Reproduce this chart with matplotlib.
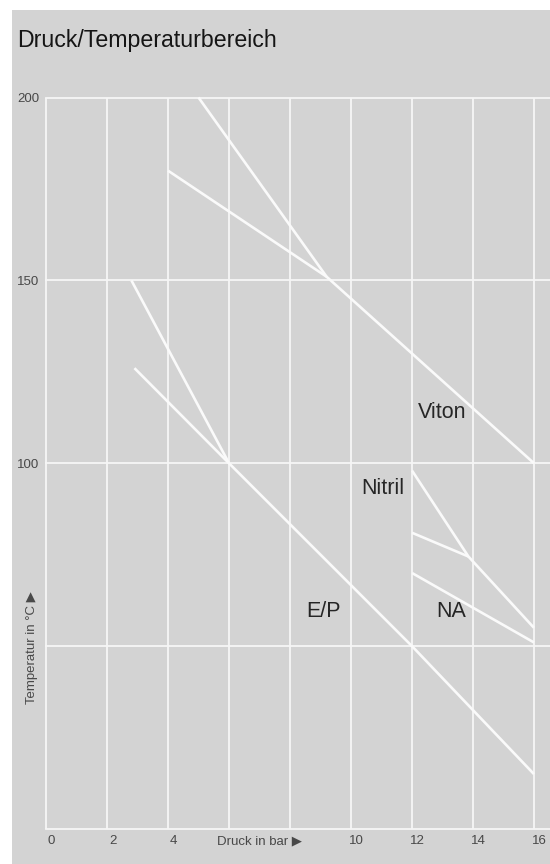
import matplotlib
matplotlib.use("Agg")
import matplotlib.pyplot as plt
import matplotlib.transforms as mtransforms
from matplotlib.patches import Rectangle

plt.rcParams['font.family'] = ['Liberation Sans', 'DejaVu Sans']

# ---- data ----
title = "Druck/Temperaturbereich"
x_ticks = [0, 2, 4, 6, 8, 10, 12, 14, 16]
x_tick_labels = ["0", "2", "4", "", "", "10", "12", "14", "16"]
y_ticks = [0, 50, 100, 150, 200]
y_tick_labels = ["", "", "100", "150", "200"]
x_label = "Druck in bar \u25B6"
y_label = "Temperatur in \u00B0C \u25B6"

viton_main_x = [5, 9.2, 16]
viton_main_y = [200, 151, 100]
viton_branch_x = [4, 9.2]
viton_branch_y = [180, 151]

ep_main_x = [2.8, 6, 12, 16]
ep_main_y = [150, 100, 50, 15]
ep_branch_x = [2.9, 6]
ep_branch_y = [126, 100]

nitril_x = [12, 13.85, 16]
nitril_y = [98, 74.5, 55]
na_upper_x = [12, 13.85]
na_upper_y = [81, 74.5]
na_lower_x = [12, 16]
na_lower_y = [70, 51]

labels = ["Viton", "Nitril", "E/P", "NA"]
label_x = [13.0, 11.05, 9.1, 13.3]
label_y = [114, 93, 59.5, 59.5]

# ---- figure ----
W, H, DPI = 550, 864, 100
fig = plt.figure(figsize=(W / DPI, H / DPI), dpi=DPI, facecolor="white")
bg = "#d3d3d3"
fig.patches.append(Rectangle((12 / W, 0), 1 - 12 / W, 1 - 10 / H,
                             transform=fig.transFigure, facecolor=bg,
                             edgecolor="none", zorder=-10))

left_px, right_px = 46, 550
top_px, bottom_px = 97.5, 829
ax = fig.add_axes([left_px / W, (H - bottom_px) / H,
                   (right_px - left_px) / W, (bottom_px - top_px) / H])
ax.set_facecolor("none")
ax.set_xlim(0, (right_px - left_px) / 30.5)
ax.set_ylim(0, 200)
for s in ax.spines.values():
    s.set_visible(False)

tick_fs = 9.5
tick_c = "#484848"
ax.set_xticks(x_ticks)
ax.set_xticklabels(x_tick_labels)
ax.set_yticks(y_ticks)
ax.set_yticklabels(y_tick_labels)
ax.tick_params(length=0, labelsize=tick_fs, labelcolor=tick_c)
ax.tick_params(axis="x", pad=4.5)
ax.tick_params(axis="y", pad=5)
offset = mtransforms.ScaledTranslation(5.5 / DPI, 0, fig.dpi_scale_trans)
for lab in ax.get_xticklabels():
    lab.set_transform(lab.get_transform() + offset)

# grid: vertical lines only within 0..200, horizontal across
grid_c = "#f6f6f6"
for xv in x_ticks:
    ax.plot([xv, xv], [0, 200], color=grid_c, lw=1.3, clip_on=False, zorder=1,
            solid_capstyle="butt")
for yv in y_ticks:
    ax.axhline(yv, color=grid_c, lw=1.3, clip_on=False, zorder=1)

line_c = "#fafafa"
lw = 1.9
for xs, ys in [(viton_main_x, viton_main_y), (viton_branch_x, viton_branch_y),
               (ep_main_x, ep_main_y), (ep_branch_x, ep_branch_y),
               (nitril_x, nitril_y), (na_upper_x, na_upper_y),
               (na_lower_x, na_lower_y)]:
    ax.plot(xs, ys, color=line_c, lw=lw, clip_on=False, zorder=3,
            solid_joinstyle="round", solid_capstyle="butt")

for t, lx, ly in zip(labels, label_x, label_y):
    ax.text(lx, ly, t, fontsize=15.5, color="#262626", ha="center", va="center",
            zorder=4)

# axis labels in place of some tick labels
ax.text(7, 0, x_label, fontsize=tick_fs, color=tick_c, ha="center", va="top",
        transform=ax.transData + mtransforms.ScaledTranslation(
            0, -6.5 / DPI, fig.dpi_scale_trans))
fig.text(31.7 / W, (H - 647.5) / H, y_label, rotation=90, fontsize=tick_fs,
         color=tick_c, ha="center", va="center")

fig.text(17 / W, 1 - 46.7 / H, title, fontsize=16.7, color="#151515",
         ha="left", va="baseline")

fig.savefig("out.png", dpi=DPI, facecolor=fig.get_facecolor())
